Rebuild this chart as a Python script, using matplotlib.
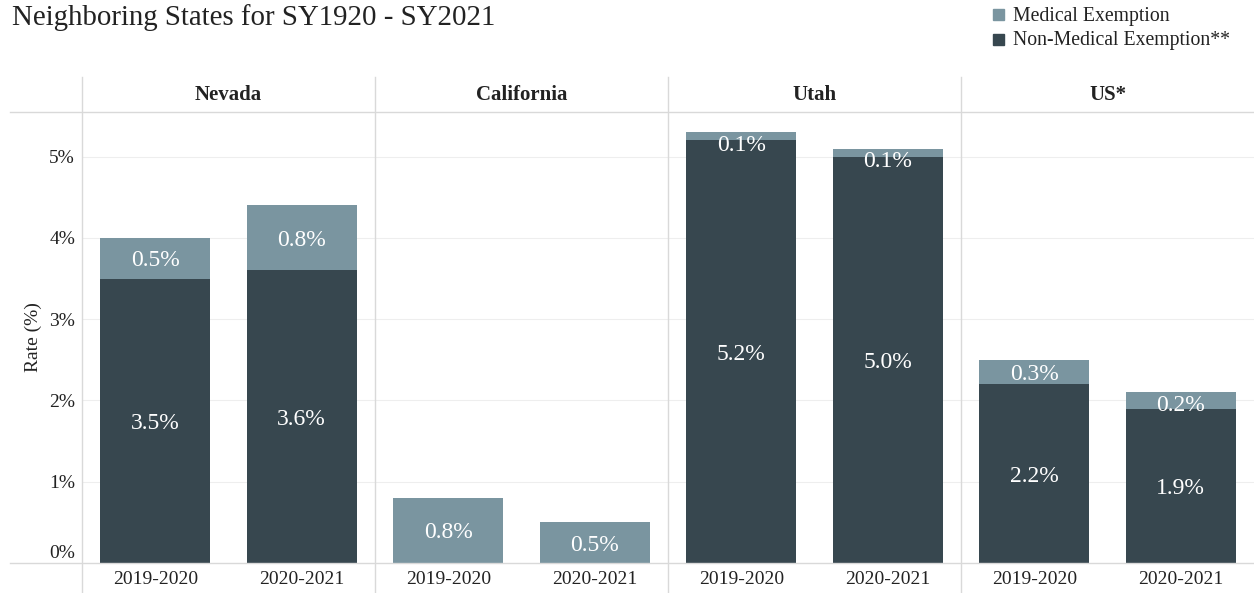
#!/usr/bin/env python3
"""Neighboring states exemption rates, SY1920 - SY2021 (faceted stacked bars)."""

import matplotlib
matplotlib.use('Agg')
import matplotlib.pyplot as plt
from matplotlib.lines import Line2D
from matplotlib.patches import Rectangle
from matplotlib.transforms import ScaledTranslation

# data
states = ['Nevada', 'California', 'Utah', 'US*']
years = ['2019-2020', '2020-2021']
non_medical = [[3.5, 3.6], [0.0, 0.0], [5.2, 5.0], [2.2, 1.9]]
medical = [[0.5, 0.8], [0.8, 0.5], [0.1, 0.1], [0.3, 0.2]]
y_ticks = [0, 1, 2, 3, 4, 5]

DARK = '#37474f'
LIGHT = '#7a95a0'
GRID = '#eeeeee'
RULE = '#d9d9d9'
TXT = '#222222'

W, H = 1254, 593
plt.rcParams['font.family'] = ['Liberation Serif', 'DejaVu Serif']

fig = plt.figure(figsize=(W / 100, H / 100), dpi=100)


def fx(px):
    return px / W


def fy(py):
    return 1 - py / H


# pane geometry in pixels
pane_left, pane_right = 82, 1254
pane_top, pane_bottom = 112, 563
header_top = 77
panel_w = (pane_right - pane_left) / len(states)

for i, state in enumerate(states):
    x0 = pane_left + i * panel_w
    ax = fig.add_axes([fx(x0), fy(pane_bottom), panel_w / W, (pane_bottom - pane_top) / H])
    xs = list(range(len(years)))
    nm = non_medical[i]
    md = medical[i]
    ax.bar(xs, nm, width=0.75, color=DARK, zorder=2)
    ax.bar(xs, md, width=0.75, bottom=nm, color=LIGHT, zorder=2)
    for x, a, b in zip(xs, nm, md):
        if a > 0:
            ax.text(x, a / 2, f'{a:.1f}%', ha='center', va='center_baseline',
                    color='white', fontsize=17, zorder=3)
        if b > 0:
            # thin segments: keep the label inside the bar, like Tableau does
            ly = min(a + b / 2, a + b - 0.13)
            ax.text(x, ly, f'{b:.1f}%', ha='center', va='center_baseline',
                    color='white', fontsize=17, zorder=3)
    ax.set_xlim(-0.5, 1.5)
    ax.set_ylim(0, 5.55)
    ax.set_xticks(xs)
    ax.set_xticklabels(years, fontsize=14, color=TXT)
    ax.set_yticks(y_ticks)
    for y in y_ticks[1:]:
        ax.axhline(y, color=GRID, lw=0.8, zorder=1)
    ax.tick_params(length=0, pad=6)
    for s in ax.spines.values():
        s.set_visible(False)
    if i == 0:
        ax.set_yticklabels([f'{t}%' for t in y_ticks], fontsize=14, color=TXT)
        ax.tick_params(axis='y', pad=5)
        lab0 = ax.get_yticklabels()[0]
        lab0.set_transform(lab0.get_transform() + ScaledTranslation(0, 12 / 100, fig.dpi_scale_trans))
        ax.set_ylabel('Rate (%)', fontsize=14, color=TXT, labelpad=5)
    else:
        ax.set_yticklabels([])

    # facet header
    fig.text(fx(x0 + panel_w / 2), fy(95), state, ha='center', va='center',
             fontsize=15, fontweight='bold', color=TXT)

# rules: header bottom, baseline and panel separators
fig.add_artist(Line2D([fx(10), fx(W)], [fy(pane_top), fy(pane_top)], color=RULE, lw=1))
fig.add_artist(Line2D([fx(10), fx(W)], [fy(pane_bottom), fy(pane_bottom)], color=RULE, lw=1))
for i in range(len(states)):
    xv = pane_left + i * panel_w
    fig.add_artist(Line2D([fx(xv), fx(xv)], [fy(header_top), 0], color=RULE, lw=1))

# title
fig.text(fx(12), fy(18), 'Neighboring States for SY1920 - SY2021', ha='left', va='center',
         fontsize=20.8, color=TXT)

# legend
for j, (name, col) in enumerate([('Medical Exemption', LIGHT),
                                 ('Non-Medical Exemption**', DARK)]):
    yy = 15 + j * 25
    fig.add_artist(Rectangle((fx(993), fy(yy + 5)), 11 / W, 11 / H, color=col,
                             transform=fig.transFigure))
    fig.text(fx(1013), fy(yy + 1), name, ha='left', va='center', fontsize=14.2, color=TXT)

plt.savefig('out.png', dpi=100)
plt.close()
